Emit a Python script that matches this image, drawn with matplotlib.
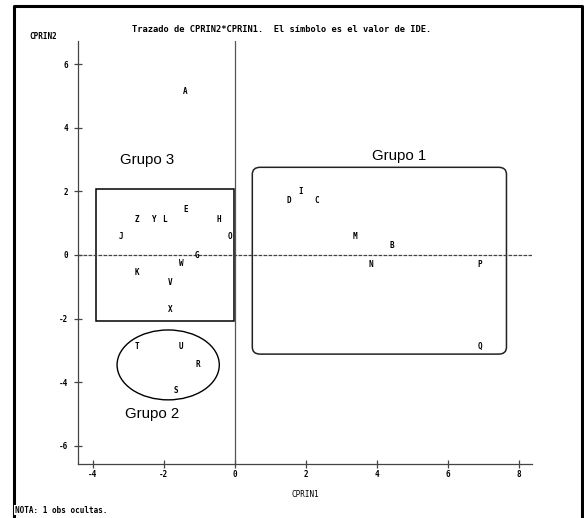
import matplotlib
matplotlib.use("Agg")
import matplotlib.pyplot as plt
from matplotlib.patches import Rectangle, Ellipse, FancyBboxPatch
from matplotlib.lines import Line2D

# ============== PLT Configuration ================
plt.rcParams.update(
    {
        "font.family": "monospace",
        "font.monospace": ["DejaVu Sans Mono"],
        "font.weight": "bold",
        "axes.unicode_minus": False,
        "figure.dpi": 100,
    }
)

# ============== Data ================
ide = ['A', 'E', 'H', 'Z', 'Y', 'L', 'J', 'O', 'G', 'W', 'K', 'V', 'X',
       'T', 'U', 'R', 'S',
       'D', 'I', 'C', 'M', 'B', 'N', 'P', 'Q']
cprin1 = [-1.39, -1.38, -0.44, -2.75, -2.27, -1.99, -3.22, -0.13, -1.07, -1.52, -2.77, -1.83, -1.83,
          -2.75, -1.52, -1.05, -1.67,
          1.53, 1.86, 2.30, 3.38, 4.43, 3.83, 6.90, 6.90]
cprin2 = [5.14, 1.44, 1.13, 1.13, 1.13, 1.13, 0.58, 0.58, -0.01, -0.28, -0.56, -0.87, -1.71,
          -2.87, -2.87, -3.44, -4.28,
          1.71, 1.99, 1.71, 0.58, 0.29, -0.29, -0.29, -2.87]

x_ticks = [-4, -2, 0, 2, 4, 6, 8]
y_ticks = [-6, -4, -2, 0, 2, 4, 6]

# group outlines: (x0, y0, x1, y1) / ellipse (cx, cy, w, h)
grupo1_box = (0.49, -3.12, 7.65, 2.76)
grupo3_box = (-3.90, -2.07, -0.03, 2.08)
grupo2_ell = (-1.88, -3.46, 2.88, 2.20)
grupo_labels = ["Grupo 1", "Grupo 2", "Grupo 3"]
grupo_label_xy = [(4.63, 3.12), (-2.33, -4.99), (-2.47, 2.99)]

# ============== Figure ================
fig = plt.figure(figsize=(5.84, 5.18))
ax = fig.add_axes([0.1336, 0.1042, 0.7774, 0.8175])
ax.set_xlim(-4.42, 8.37)
ax.set_ylim(-6.58, 6.75)

for side in ["top", "right"]:
    ax.spines[side].set_visible(False)
for side in ["left", "bottom"]:
    ax.spines[side].set_color("#444444")
    ax.spines[side].set_linewidth(0.9)

ax.set_xticks(x_ticks)
ax.set_yticks(y_ticks)
ax.set_xticklabels([str(t) for t in x_ticks])
ax.set_yticklabels([str(t) for t in y_ticks])
ax.tick_params(direction="inout", length=6, width=0.9, color="#444444",
               labelsize=5.5)
ax.tick_params(axis="y", pad=4)
ax.tick_params(axis="x", pad=1.5)

# reference lines
ax.axvline(0, color="#555555", linewidth=0.9)
ax.axhline(0, color="#444444", linewidth=0.9, linestyle=(0, (3, 1)))

# labels for each observation
for lab, x, y in zip(ide, cprin1, cprin2):
    ax.text(x, y, lab, ha="center", va="center", fontsize=5.5, fontweight="bold")

# group outlines
x0, y0, x1, y1 = grupo3_box
ax.add_patch(Rectangle((x0, y0), x1 - x0, y1 - y0, fill=False, edgecolor="black", linewidth=1.1))
x0, y0, x1, y1 = grupo1_box
ax.add_patch(FancyBboxPatch((x0, y0), x1 - x0, y1 - y0,
                            boxstyle="round,pad=0,rounding_size=0.22",
                            fill=False, edgecolor="#222222", linewidth=1.1))
cx, cy, w, h = grupo2_ell
ax.add_patch(Ellipse((cx, cy), w, h, fill=False, edgecolor="black", linewidth=1.0))

for lab, (x, y) in zip(grupo_labels, grupo_label_xy):
    ax.text(x, y, lab, ha="center", va="center", fontsize=10.8,
            family="Liberation Sans", fontweight="normal")

ax.set_xlabel("CPRIN1", fontsize=5.5, labelpad=8)
ax.text(-0.045, 1.0, "CPRIN2", transform=ax.transAxes, ha="right", va="bottom",
        fontsize=5.5)

fig.text(0.482, 0.944, "Trazado de CPRIN2*CPRIN1.  El s\u00edmbolo es el valor de IDE.",
         ha="center", va="center", fontsize=6.3)

# page frame
frame = Line2D([0.0248, 0.0248, 0.9966, 0.9966], [-0.05, 0.9884, 0.9884, -0.05],
               transform=fig.transFigure, color="black", linewidth=2.2)
fig.add_artist(frame)
fig.text(0.026, 0.0154, "NOTA: 1 obs ocultas.", ha="left", va="center", fontsize=5.5,
         bbox=dict(facecolor="white", edgecolor="none", pad=0.5))

fig.savefig("out.png", dpi=100)
